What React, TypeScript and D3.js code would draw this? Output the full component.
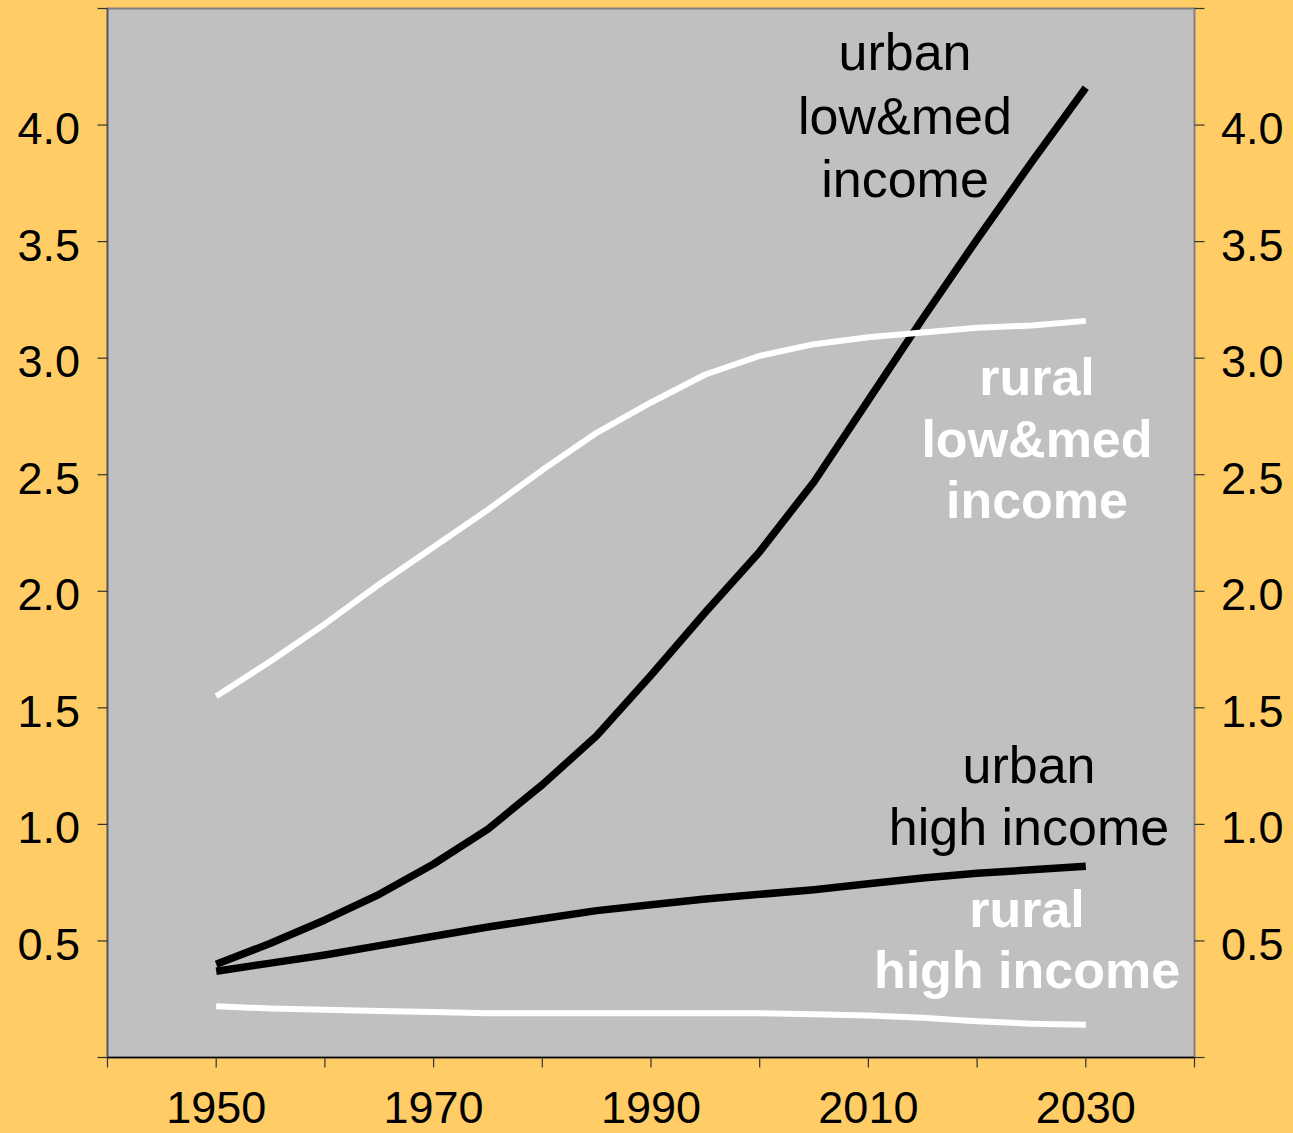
import React from "react";
import * as d3 from "d3";

const years = [1950, 1955, 1960, 1965, 1970, 1975, 1980, 1985, 1990, 1995, 2000, 2005, 2010, 2015, 2020, 2025, 2030];
const urbanLowMed = [0.40, 0.49, 0.59, 0.70, 0.83, 0.98, 1.17, 1.38, 1.64, 1.91, 2.17, 2.47, 2.82, 3.17, 3.51, 3.84, 4.16];
const ruralLowMed = [1.55, 1.70, 1.86, 2.03, 2.19, 2.35, 2.52, 2.68, 2.81, 2.93, 3.01, 3.06, 3.09, 3.11, 3.13, 3.14, 3.16];
const urbanHigh = [0.37, 0.405, 0.44, 0.48, 0.52, 0.56, 0.595, 0.63, 0.655, 0.68, 0.70, 0.72, 0.745, 0.77, 0.79, 0.805, 0.82];
const ruralHigh = [0.22, 0.21, 0.205, 0.20, 0.195, 0.19, 0.19, 0.19, 0.19, 0.19, 0.19, 0.185, 0.18, 0.17, 0.155, 0.145, 0.14];

const yTicks = [0.5, 1.0, 1.5, 2.0, 2.5, 3.0, 3.5, 4.0];
const yMinorTicks = [0, 0.5, 1.0, 1.5, 2.0, 2.5, 3.0, 3.5, 4.0, 4.5];
const xTicks = [1940, 1950, 1960, 1970, 1980, 1990, 2000, 2010, 2020, 2030, 2040];
const xLabels = [1950, 1970, 1990, 2010, 2030];

const series = [
  { name: "urbanLowMed", values: urbanLowMed, color: "#000000", width: 7.5 },
  { name: "ruralLowMed", values: ruralLowMed, color: "#ffffff", width: 6 },
  { name: "urbanHigh", values: urbanHigh, color: "#000000", width: 7.5 },
  { name: "ruralHigh", values: ruralHigh, color: "#ffffff", width: 6 },
];

const labels = [
  { lines: ["urban", "low&med", "income"], x: 905, y: 70, dy: 63.5, color: "#000", bold: false },
  { lines: ["rural", "low&med", "income"], x: 1037, y: 395, dy: 61.5, color: "#fff", bold: true },
  { lines: ["urban", "high income"], x: 1029, y: 783, dy: 62, color: "#000", bold: false },
  { lines: ["rural", "high income"], x: 1027, y: 927, dy: 61, color: "#fff", bold: true },
];

const W = 1293;
const H = 1133;
const left = 107.5;
const right = 1194.5;
const top = 8.5;
const bottom = 1057.5;
const font = "'Liberation Sans', Arial, Helvetica, sans-serif";

export default function App() {
  const x = d3.scaleLinear().domain([1940, 2040]).range([left, right]);
  const y = d3.scaleLinear().domain([0, 4.5]).range([bottom, top]);
  const line = d3
    .line<number>()
    .x((_, i) => x(years[i]))
    .y((d) => y(d))
    .curve(d3.curveLinear);

  return (
    <svg width={W} height={H} style={{ position: "absolute", left: 0, top: 0, display: "block" }}>
      <rect x={0} y={0} width={W} height={H} fill="#FFCC66" />
      <rect x={left} y={top} width={right - left} height={bottom - top} fill="#C0C0C0" stroke="#808080" strokeWidth={2} />
      <line x1={left} x2={left} y1={top} y2={bottom} stroke="#555" strokeWidth={1.5} />
      <line x1={left} x2={right} y1={bottom} y2={bottom} stroke="#000" strokeWidth={1.5} />
      {yMinorTicks.map((t) => (
        <g key={"yt" + t}>
          <line x1={left - 10} x2={left} y1={y(t)} y2={y(t)} stroke="#333" strokeWidth={1.2} />
          <line x1={right} x2={right + 10} y1={y(t)} y2={y(t)} stroke="#333" strokeWidth={1.2} />
        </g>
      ))}
      {yTicks.map((t) => (
        <g key={"yl" + t} fontFamily={font} fontSize={45} fill="#000">
          <text x={80} y={y(t) + 19} textAnchor="end">{d3.format(".1f")(t)}</text>
          <text x={1221} y={y(t) + 19} textAnchor="start">{d3.format(".1f")(t)}</text>
        </g>
      ))}
      {xTicks.map((t) => (
        <line key={"xt" + t} x1={x(t)} x2={x(t)} y1={bottom} y2={bottom + 10} stroke="#333" strokeWidth={1.2} />
      ))}
      {xLabels.map((t) => (
        <text key={"xl" + t} x={x(t)} y={1123} textAnchor="middle" fontFamily={font} fontSize={45} fill="#000">
          {t}
        </text>
      ))}
      {series.map((s) => (
        <path key={s.name} d={line(s.values) || ""} fill="none" stroke={s.color} strokeWidth={s.width} strokeLinecap="butt" strokeLinejoin="round" />
      ))}
      {labels.map((l, i) => (
        <text key={"lab" + i} fontFamily={font} fontSize={52} fontWeight={l.bold ? "bold" : "normal"} fill={l.color} textAnchor="middle">
          {l.lines.map((ln, j) => (
            <tspan key={j} x={l.x} y={l.y + j * l.dy}>
              {ln}
            </tspan>
          ))}
        </text>
      ))}
    </svg>
  );
}
